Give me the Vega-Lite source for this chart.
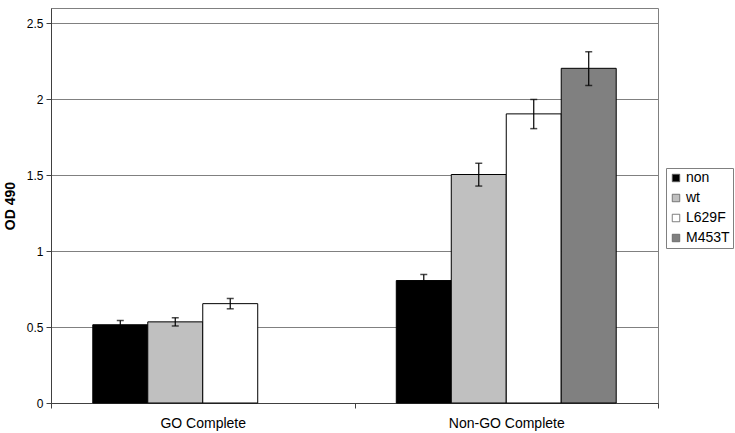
{
  "$schema": "https://vega.github.io/schema/vega-lite/v6.json",
  "autosize": {"type": "none"},
  "padding": {"left": 51, "top": 8, "right": 77, "bottom": 30},
  "width": 607,
  "height": 395,
  "background": "white",
  "config": {
    "font": "Liberation Sans",
    "view": {"stroke": "#808080", "strokeWidth": 1},
    "axis": {"labelColor": "black", "titleColor": "black", "domainColor": "#404040", "tickColor": "#404040"}
  },
  "data": {
    "values": [
      {"group": "GO Complete", "series": "non", "value": 0.515, "lo": 0.487, "hi": 0.543},
      {"group": "GO Complete", "series": "wt", "value": 0.534, "lo": 0.507, "hi": 0.561},
      {"group": "GO Complete", "series": "L629F", "value": 0.654, "lo": 0.620, "hi": 0.688},
      {"group": "Non-GO Complete", "series": "non", "value": 0.806, "lo": 0.766, "hi": 0.846},
      {"group": "Non-GO Complete", "series": "wt", "value": 1.504, "lo": 1.428, "hi": 1.578},
      {"group": "Non-GO Complete", "series": "L629F", "value": 1.903, "lo": 1.806, "hi": 1.998},
      {"group": "Non-GO Complete", "series": "M453T", "value": 2.203, "lo": 2.090, "hi": 2.312}
    ]
  },
  "encoding": {
    "x": {
      "field": "group", "type": "nominal",
      "scale": {"paddingInner": 0, "paddingOuter": 0},
      "axis": {"title": null, "labelAngle": 0, "labelFontSize": 14, "labelPadding": 8, "tickBand": "extent", "tickSize": 5, "domainColor": "#404040"}
    },
    "xOffset": {
      "field": "series", "type": "nominal",
      "scale": {"domain": ["non", "wt", "L629F", "M453T"], "paddingInner": 0, "paddingOuter": 0.76}
    }
  },
  "layer": [
    {
      "mark": {"type": "bar", "stroke": "black", "strokeWidth": 1},
      "encoding": {
        "y": {
          "field": "value", "type": "quantitative",
          "scale": {"domain": [0, 2.5]},
          "axis": {"values": [0, 0.5, 1, 1.5, 2, 2.5], "format": ".2~f", "title": "OD 490", "titleFontSize": 14, "titleFontWeight": "bold", "titlePadding": 9, "labelFontSize": 12, "tickSize": 5, "gridColor": "#808080", "gridOpacity": 1, "labelPadding": 3}
        },
        "fill": {
          "field": "series", "type": "nominal",
          "scale": {"domain": ["non", "wt", "L629F", "M453T"], "range": ["#000000", "#c0c0c0", "#ffffff", "#808080"]},
          "legend": {
            "title": null, "orient": "none", "legendX": 615, "legendY": 160,
            "symbolType": "square", "symbolSize": 56, "symbolStrokeColor": "#606060", "symbolStrokeWidth": 0.8,
            "labelFontSize": 14, "labelColor": "black", "labelOffset": 3,
            "rowPadding": 6, "padding": 3, "strokeColor": "#808080", "fillColor": "white"
          }
        }
      }
    },
    {
      "mark": {"type": "rule", "color": "black", "strokeWidth": 1.2},
      "encoding": {
        "y": {"field": "lo", "type": "quantitative"},
        "y2": {"field": "hi"}
      }
    },
    {
      "mark": {"type": "tick", "color": "black", "thickness": 1.5, "size": 7, "orient": "horizontal"},
      "encoding": {"y": {"field": "lo", "type": "quantitative"}}
    },
    {
      "mark": {"type": "tick", "color": "black", "thickness": 1.5, "size": 7, "orient": "horizontal"},
      "encoding": {"y": {"field": "hi", "type": "quantitative"}}
    }
  ]
}
